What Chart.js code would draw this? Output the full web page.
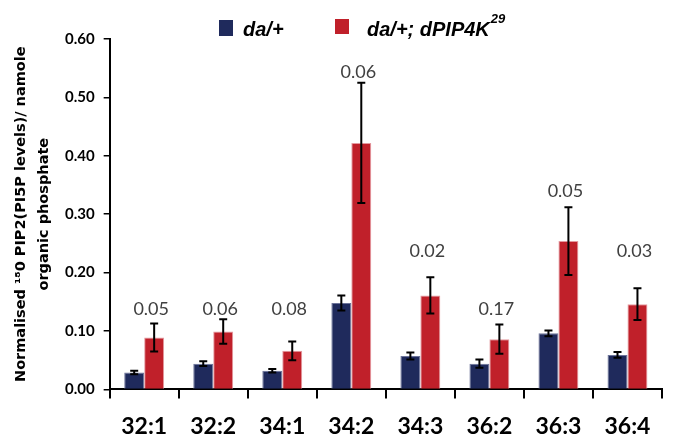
<!DOCTYPE html>
<html>
<head>
<meta charset="utf-8">
<script src="https://cdn.jsdelivr.net/npm/chart.js@4.4.1/dist/chart.umd.min.js"></script>
<style>
    body { margin: 0; background: #fff; }
    #grafico { display: block; }
</style>
</head>
<body>
<canvas id="grafico" width="673" height="440"></canvas>
<script>
// Especies moleculares (eje X)
var categorias = ['32:1', '32:2', '34:1', '34:2', '34:3', '36:2', '36:3', '36:4'];

// da/+
var valoresControl = [0.029, 0.044, 0.032, 0.148, 0.057, 0.044, 0.096, 0.059];
var errorControl   = [0.003, 0.004, 0.003, 0.013, 0.006, 0.007, 0.005, 0.005];

// da/+; dPIP4K29
var valoresMutante = [0.089, 0.099, 0.066, 0.422, 0.161, 0.086, 0.254, 0.146];
var errorMutante   = [0.024, 0.021, 0.016, 0.103, 0.031, 0.025, 0.058, 0.027];

// Valores p y la altura (en unidades del eje Y) donde se escriben
var valoresP = ['0.05', '0.06', '0.08', '0.06', '0.02', '0.17', '0.05', '0.03'];
var alturaP  = [0.127, 0.127, 0.127, 0.534, 0.227, 0.127, 0.330, 0.227];

// Marcas del eje Y
var ticksY = [0, 0.1, 0.2, 0.3, 0.4, 0.5, 0.6];

var etiquetaControl = 'da/+';
var etiquetaMutante = 'da/+; dPIP4K';
var superMutante = '29';

var colorControl = '#1f2a5c';
var colorMutante = '#c0202a';

// Barras de error (se dibujan con la escala Y del grafico)
var barrasError = {
    id: 'barrasError',
    afterDatasetsDraw: function(chart) {
        var ctx = chart.ctx;
        var escalaY = chart.scales.y;
        var errores = [errorControl, errorMutante];
        ctx.save();
        ctx.strokeStyle = '#000';
        ctx.lineWidth = 2;
        chart.data.datasets.forEach(function(ds, d) {
            var meta = chart.getDatasetMeta(d);
            meta.data.forEach(function(barra, i) {
                var arriba = escalaY.getPixelForValue(ds.data[i] + errores[d][i]);
                var abajo = escalaY.getPixelForValue(ds.data[i] - errores[d][i]);
                ctx.beginPath();
                ctx.moveTo(barra.x, arriba); ctx.lineTo(barra.x, abajo);
                ctx.moveTo(barra.x - 4, arriba); ctx.lineTo(barra.x + 4, arriba);
                ctx.moveTo(barra.x - 4, abajo); ctx.lineTo(barra.x + 4, abajo);
                ctx.stroke();
            });
        });

        // valores p sobre cada grupo
        var metaMut = chart.getDatasetMeta(1);
        ctx.fillStyle = '#404040';
        ctx.font = '18px Lato';
        ctx.textAlign = 'center';
        ctx.textBaseline = 'alphabetic';
        valoresP.forEach(function(p, i) {
            ctx.fillText(p, metaMut.data[i].x - 3, escalaY.getPixelForValue(alturaP[i]));
        });
        ctx.restore();
    }
};

// Leyenda arriba (con superindice)
var leyenda = {
    id: 'leyenda',
    afterDraw: function(chart) {
        var ctx = chart.ctx;
        ctx.save();
        ctx.textBaseline = 'alphabetic';
        ctx.textAlign = 'left';

        ctx.fillStyle = colorControl;
        ctx.fillRect(219, 20, 14, 16);
        ctx.fillStyle = colorMutante;
        ctx.fillRect(335, 19, 14, 15);

        ctx.fillStyle = '#000';
        ctx.font = 'italic bold 20px "Liberation Sans"';
        ctx.fillText(etiquetaControl, 243, 36);
        ctx.fillText(etiquetaMutante, 367, 36);
        var ancho = ctx.measureText(etiquetaMutante).width;
        ctx.font = 'italic bold 13px "Liberation Sans"';
        ctx.fillText(superMutante, 367 + ancho + 1, 23);
        ctx.restore();
    }
};

var ctx = document.getElementById('grafico').getContext('2d');
var grafico = new Chart(ctx, {
    type: 'bar',
    data: {
        labels: categorias,
        datasets: [{
            label: etiquetaControl,
            data: valoresControl,
            backgroundColor: colorControl,
            borderColor: '#6c7399',
            borderWidth: 1
        }, {
            label: etiquetaMutante + superMutante,
            data: valoresMutante,
            backgroundColor: colorMutante,
            borderColor: '#e49aa0',
            borderWidth: 1
        }]
    },
    options: {
        responsive: false,
        animation: false,
        layout: {
            padding: { top: 39, right: 11, bottom: -14, left: 10 }
        },
        datasets: {
            bar: {
                categoryPercentage: 0.578,
                barPercentage: 1.0
            }
        },
        plugins: {
            legend: { display: false },
            tooltip: { enabled: false }
        },
        scales: {
            x: {
                grid: {
                    offset: true,
                    drawOnChartArea: false,
                    drawTicks: true,
                    tickLength: 9,
                    color: '#000',
                    lineWidth: 2
                },
                border: { color: '#000', width: 2 },
                ticks: {
                    color: '#000',
                    padding: 14,
                    font: { family: 'Lato', weight: 'bold', size: 23 }
                }
            },
            y: {
                min: 0,
                max: 0.6,
                afterBuildTicks: function(escala) {
                    escala.ticks = ticksY.map(function(v) { return { value: v }; });
                },
                grid: {
                    drawOnChartArea: false,
                    tickLength: 6,
                    color: '#000',
                    lineWidth: 1.5
                },
                border: { color: '#000', width: 2 },
                ticks: {
                    color: '#000',
                    padding: 9,
                    font: { family: 'Lato', weight: 'bold', size: 15 },
                    callback: function(v) { return v.toFixed(2); }
                },
                title: {
                    display: true,
                    text: ['Normalised \u00b9\u20780 PIP2(PI5P levels)/ namole', 'organic phosphate'],
                    color: '#000',
                    padding: { top: 0, bottom: 0 },
                    font: { family: 'DejaVu Sans', weight: 'bold', size: 14.5, lineHeight: '23px' }
                }
            }
        }
    },
    plugins: [barrasError, leyenda]
});
</script>
</body>
</html>
